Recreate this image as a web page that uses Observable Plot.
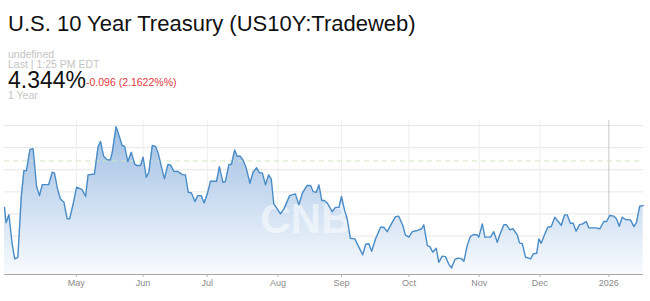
<!DOCTYPE html>
<html><head><meta charset="utf-8">
<script src="https://cdn.jsdelivr.net/npm/d3@7"></script>
<script src="https://cdn.jsdelivr.net/npm/@observablehq/plot@0.6"></script>
<style>
body{margin:0;background:#fff;font-family:Arial,"Liberation Sans",sans-serif;width:650px;height:301px;overflow:hidden;position:relative}
.t{position:absolute;white-space:nowrap;line-height:0.85}
#chart{position:absolute;left:0;top:110px}
</style></head><body>
<div id="title" class="t" style="left:8px;top:14.7px;font-size:22px;color:#111"></div>
<div id="sub1" class="t" style="left:8px;top:50.2px;font-size:10.5px;color:#c4c4c4"></div>
<div id="sub2" class="t" style="left:8px;top:60.2px;font-size:10.5px;color:#c4c4c4"></div>
<div id="last" class="t" style="left:8px;top:70.6px;font-size:23px;color:#111"></div>
<div id="chg" class="t" style="left:86px;top:78.4px;font-size:10.5px;color:#e2393b"></div>
<div id="range" class="t" style="left:8px;top:90.9px;font-size:10.5px;color:#c4c4c4"></div>
<div id="chart"></div>
<script>
// ---- text ----
const titleText = "U.S. 10 Year Treasury (US10Y:Tradeweb)";
const sub1Text = "undefined";
const sub2Text = "Last | 1:25 PM EDT";
const lastText = "4.344%";
const changeText = "-0.096 (2.1622%%)";
const rangeText = "1 Year";

// ---- data: trading-day index and yield (%) ----
const days = [0.0,0.5,1.4,2.4,3.2,4.2,5.3,6.1,6.9,8.0,9.0,10.1,11.0,11.9,13.9,15.0,15.7,16.8,17.6,18.7,19.7,20.5,21.6,22.7,24.4,25.5,26.3,28.3,29.4,30.2,31.2,32.3,33.3,33.9,35.1,36.2,37.0,37.8,38.8,39.9,40.9,41.7,42.8,43.6,44.6,45.4,46.5,47.5,48.4,49.4,50.3,51.4,52.2,53.3,54.6,55.9,56.9,57.8,58.8,59.9,60.8,61.9,62.8,63.8,64.8,66.7,67.6,68.7,69.5,70.6,71.4,72.4,73.2,74.2,75.1,76.0,77.2,78.2,79.3,80.2,81.1,82.1,83.1,83.9,84.7,85.8,86.8,87.9,89.7,91.5,92.6,93.7,95.2,96.3,97.1,98.1,98.9,99.8,100.6,101.5,103.1,104.1,105.2,106.0,107.0,107.8,108.8,110.2,111.5,112.7,113.6,114.6,115.5,116.7,118.3,119.3,120.4,121.7,123.0,124.0,125.3,126.1,127.2,128.3,129.8,131.2,131.9,133.0,133.8,134.7,135.8,136.6,137.7,138.7,139.8,140.6,141.7,142.7,143.7,144.5,145.6,146.6,147.6,148.7,149.2,150.3,151.1,152.9,153.9,155.0,156.0,157.1,157.9,159.0,159.9,161.3,162.0,162.9,163.9,164.9,165.5,166.3,167.4,168.1,168.8,169.9,170.9,172.0,173.1,174.2,175.1,176.2,177.0,178.0,178.9,179.8,180.9,181.9,183.0,183.8,185.9,187.3,188.5,189.4,190.4,191.7,192.5,193.4,194.3,195.3,196.9,198.0,198.8,199.8,200.9];
const yields = [4.230,4.160,4.196,4.065,3.997,4.004,4.283,4.396,4.396,4.491,4.495,4.324,4.283,4.333,4.333,4.389,4.386,4.306,4.268,4.253,4.178,4.178,4.246,4.321,4.310,4.279,4.377,4.381,4.502,4.528,4.461,4.445,4.445,4.479,4.595,4.547,4.510,4.506,4.437,4.479,4.427,4.419,4.419,4.457,4.366,4.389,4.510,4.506,4.472,4.411,4.359,4.424,4.422,4.393,4.392,4.378,4.377,4.298,4.295,4.256,4.283,4.283,4.250,4.291,4.348,4.348,4.414,4.343,4.347,4.424,4.425,4.490,4.461,4.461,4.442,4.409,4.339,4.389,4.409,4.386,4.386,4.332,4.377,4.359,4.246,4.223,4.200,4.223,4.283,4.291,4.241,4.294,4.329,4.329,4.301,4.298,4.332,4.261,4.261,4.250,4.211,4.230,4.230,4.279,4.215,4.178,4.090,4.087,4.049,4.015,4.063,4.065,4.031,4.087,4.140,4.140,4.120,4.155,4.188,4.190,4.148,4.105,4.095,4.120,4.125,4.133,4.151,4.057,4.052,4.027,4.045,3.981,4.009,4.007,3.971,3.956,3.994,4.000,3.997,3.986,4.060,4.099,4.107,4.105,4.095,4.155,4.095,4.095,4.120,4.072,4.114,4.151,4.151,4.128,4.133,4.105,4.069,4.065,4.004,4.000,3.997,4.019,4.022,4.087,4.067,4.107,4.140,4.143,4.185,4.166,4.148,4.196,4.196,4.158,4.158,4.122,4.152,4.155,4.166,4.137,4.137,4.133,4.166,4.166,4.193,4.190,4.178,4.144,4.185,4.175,4.173,4.143,4.162,4.235,4.238];

// axis ticks (month starts, in trading-day index)
const tickDays = [22.6, 43.6, 63.8, 86.0, 106.0, 127.2, 149.3, 168.4, 190.1];
const tickLabels = ["May", "Jun", "Jul", "Aug", "Sep", "Oct", "Nov", "Dec", "2026"];
const gridYields = [4.0, 4.1, 4.2, 4.3, 4.4, 4.5, 4.6];
const prevClose = 4.44;
const yMin = 3.926, yMax = 4.623;
const dayMax = 201;

// ---- header ----
document.getElementById("title").textContent = titleText;
document.getElementById("sub1").textContent = sub1Text;
document.getElementById("sub2").textContent = sub2Text;
document.getElementById("last").textContent = lastText;
document.getElementById("chg").textContent = changeText;
document.getElementById("range").textContent = rangeText;

const series = days.map((d, i) => ({day: d, yield: yields[i]}));

const svg = Plot.plot({
  width: 650, height: 191,
  marginTop: 10, marginBottom: 27, marginLeft: 4, marginRight: 7,
  x: {domain: [0, dayMax], label: null},
  y: {domain: [yMin, yMax], axis: null},
  style: {fontFamily: "Arial, 'Liberation Sans', sans-serif", fontSize: "9px", background: "transparent", overflow: "visible"},
  marks: [
    Plot.ruleY(gridYields, {stroke: "#e6e6e6", strokeOpacity: 1}),
    Plot.ruleX(tickDays.slice(0, 8), {stroke: "#eeeeee", strokeOpacity: 1}),
    Plot.ruleX(tickDays.slice(8), {stroke: "#c8c8c8", strokeOpacity: 1}),
    Plot.areaY(series, {x: "day", y1: yMin, y2: "yield", fill: "url(#fillGrad)", curve: "linear"}),
    Plot.text(["CNBC"], {frameAnchor: "middle", dx: -3, dy: 22, fill: "white", fillOpacity: 0.5, fontSize: 42, fontWeight: "bold"}),
    Plot.ruleY([prevClose], {stroke: "#cfe7c4", strokeOpacity: 1, strokeDasharray: "5,4"}),
    Plot.lineY(series, {x: "day", y: "yield", stroke: "#4a8cc6", strokeWidth: 1.4, curve: "linear"}),
    Plot.axisX({ticks: tickDays, tickFormat: d => tickLabels[tickDays.indexOf(d)], tickSize: 3, tickPadding: 2, stroke: "#bbb", fill: "#8a8a8a", fontSize: 9, label: null}),
    Plot.ruleY([yMin], {stroke: "#a8a8a8", strokeOpacity: 1})
  ]
});

const defs = d3.select(svg).insert("defs", ":first-child");
const grad = defs.append("linearGradient").attr("id", "fillGrad").attr("x1", 0).attr("y1", 0).attr("x2", 0).attr("y2", 1);
grad.append("stop").attr("offset", "0%").attr("stop-color", "#9ebee3");
grad.append("stop").attr("offset", "100%").attr("stop-color", "#f8fbfe");

document.getElementById("chart").appendChild(svg);
</script>
</body></html>
